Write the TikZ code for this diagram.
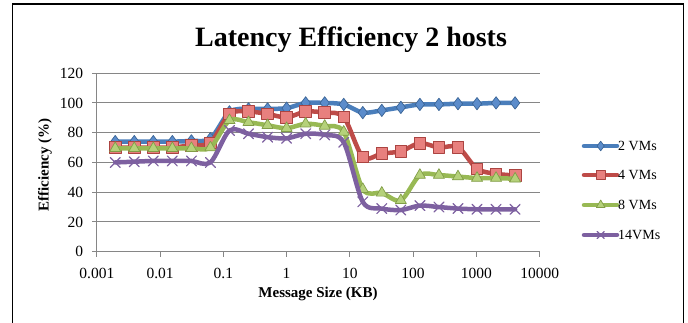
\documentclass[tikz,border=0pt]{standalone}
\usepackage{fontspec}
\setmainfont{Liberation Serif}
\usetikzlibrary{plotmarks}

\definecolor{vmblue}{HTML}{4A7EBB}
\definecolor{vmbluefill}{HTML}{5B8CCB}
\definecolor{vmred}{HTML}{BE4B48}
\definecolor{vmredfill}{HTML}{E8807E}
\definecolor{vmgreen}{HTML}{98B954}
\definecolor{vmgreenfill}{HTML}{B5D17A}
\definecolor{vmpurple}{HTML}{7D60A0}
\definecolor{gridgray}{HTML}{868686}

\begin{document}
\begin{tikzpicture}[x=1pt, y=1pt,
    gridline/.style={draw=gridgray, line width=1pt},
    ticklabel/.style={font=\fontsize{15.5}{17}\selectfont, inner sep=0pt},
    axislabel/.style={font=\bfseries\fontsize{15}{17}\selectfont, inner sep=0pt},
    legendtext/.style={font=\fontsize{14}{16}\selectfont, inner sep=0pt, anchor=west},
    series/.style={line width=4.5pt, line join=round, line cap=round},
    bluevm/.style={series, draw=vmblue, mark=diamond*, mark size=6.2pt,
        mark options={line width=0.7pt, draw=vmblue!80!black, fill=vmbluefill}},
    redvm/.style={series, draw=vmred, mark=square*, mark size=5.8pt,
        mark options={line width=0.8pt, draw=vmred!90!black, fill=vmredfill}},
    greenvm/.style={series, draw=vmgreen, mark=triangle*, mark size=6.4pt,
        mark options={line width=0.7pt, draw=vmgreen!85!black, fill=vmgreenfill}},
    purplevm/.style={series, draw=vmpurple, mark=x, mark size=7pt,
        mark options={line width=1.2pt, draw=vmpurple}}]
    \useasboundingbox (0,0) rectangle (688,323);

    % frame, open at the bottom
    \draw[line width=1.3pt] (12.7,-2) -- (12.7,319) -- (683.3,319) -- (683.3,-2);

    \node[font=\bfseries\fontsize{28}{30}\selectfont, anchor=base] (title) at (351,276.3) {Latency Efficiency 2 hosts};

    % plot area: x = log10(KB), y = efficiency
    \begin{scope}[shift={(286.6,71.3)}, x=63.26pt, y=1.4875pt]
        \foreach \e in {20,40,...,120} \draw[gridline] (-3,\e) -- (4,\e);
        \draw[gridline] (-3,120) -- (-3,0) -- (4,0);
        \foreach \e in {0,20,...,120} {
            \draw[gridline] (-3,\e) -- ++(-5pt,0);
            \node[ticklabel, anchor=east] (yl\e) at ([xshift=-13.5pt]-3,\e) {\e};
        }
        \foreach \d/\lab in {-3/0.001, -2/0.01, -1/0.1, 0/1, 1/10, 2/100, 3/1000, 4/10000} {
            \draw[gridline] (\d,0) -- ++(0,-5pt);
            \node[ticklabel, anchor=base] (xl\d) at ([yshift=-26.6pt]\d,0) {\lab};
        }

        % 2 VMs
        \draw[bluevm] plot[smooth, tension=0.5] coordinates {
            (-2.709,74) (-2.408,74) (-2.107,74) (-1.806,74) (-1.505,74.5) (-1.204,76)
            (-0.903,94) (-0.602,96) (-0.301,96) (0,96.5) (0.301,100) (0.602,100)
            (0.903,99) (1.204,93.5) (1.505,95) (1.806,97) (2.107,99) (2.408,99)
            (2.709,99.5) (3.010,99.5) (3.311,100) (3.612,100)};
        % 4 VMs
        \draw[redvm] plot[smooth, tension=0.5] coordinates {
            (-2.709,70) (-2.408,70) (-2.107,70) (-1.806,70) (-1.505,71.6) (-1.204,73.2)
            (-0.903,92.6) (-0.602,94.2) (-0.301,92.6) (0,90.3) (0.301,94.2) (0.602,93.5)
            (0.903,90.5) (1.204,63.6) (1.505,66) (1.806,67.5) (2.107,73) (2.408,70)
            (2.709,70.3) (3.010,55.7) (3.311,52.4) (3.612,51.2)};
        % 8 VMs
        \draw[greenvm] plot[smooth, tension=0.5] coordinates {
            (-2.709,69.5) (-2.408,69.5) (-2.107,69.5) (-1.806,69.5) (-1.505,69.5) (-1.204,70)
            (-0.903,88.3) (-0.602,87) (-0.301,85) (0,83) (0.301,86) (0.602,84.5)
            (0.903,80.5) (1.204,42) (1.505,39.5) (1.806,34.5) (2.107,51.5) (2.408,51.5)
            (2.709,50.5) (3.010,49.5) (3.311,49.5) (3.612,49)};
        % 14 VMs
        \draw[purplevm] plot[smooth, tension=0.5] coordinates {
            (-2.709,60) (-2.408,60.5) (-2.107,61) (-1.806,61) (-1.505,61) (-1.204,60)
            (-0.903,81.5) (-0.602,79.3) (-0.301,77) (0,76.2) (0.301,79.3) (0.602,78.5)
            (0.903,73.5) (1.204,33.5) (1.505,29) (1.806,28) (2.107,31) (2.408,30)
            (2.709,29) (3.010,28.5) (3.311,28.5) (3.612,28.5)};
    \end{scope}

    \node[axislabel, rotate=90] (ylabel) at (45,158) {Efficiency (\%)};
    \node[axislabel] (xlabel) at (318,29) {Message Size (KB)};

    % legend
    \coordinate (l2a) at (584,177); \coordinate (l2b) at (617,177);
    \coordinate (l4a) at (584,148); \coordinate (l4b) at (617,148);
    \coordinate (l8a) at (584,118); \coordinate (l8b) at (617,118);
    \coordinate (l14a) at (584,88); \coordinate (l14b) at (617,88);

    \draw[series, vmblue] (l2a) -- (l2b);
    \draw[bluevm, mark size=4.8pt] plot[only marks] coordinates {(600.7,177)};
    \node[legendtext] (leg2) at (618,177) {2 VMs};
    \draw[series, vmred] (l4a) -- (l4b);
    \draw[redvm, mark size=4.5pt] plot[only marks] coordinates {(600.7,148)};
    \node[legendtext] (leg4) at (618,148) {4 VMs};
    \draw[series, vmgreen] (l8a) -- (l8b);
    \draw[greenvm, mark size=5pt] plot[only marks] coordinates {(600.7,118)};
    \node[legendtext] (leg8) at (618,118) {8 VMs};
    \draw[series, vmpurple] (l14a) -- (l14b);
    \draw[purplevm, mark size=5pt] plot[only marks] coordinates {(600.7,88)};
    \node[legendtext] (leg14) at (618,88) {14VMs};
\end{tikzpicture}
\end{document}
